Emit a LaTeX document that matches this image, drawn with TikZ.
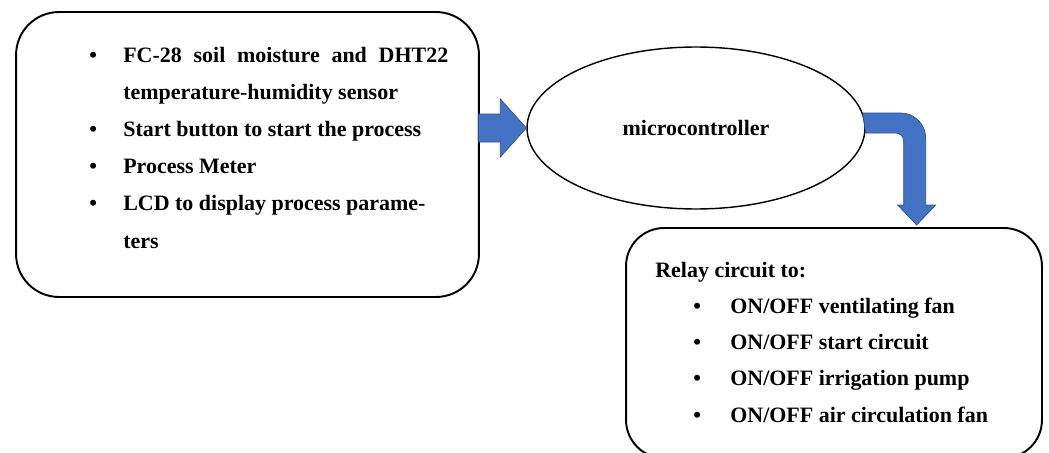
\documentclass[tikz,border=0pt]{standalone}
\usepackage{fontspec}
\setmainfont{Liberation Serif}
\usetikzlibrary{calc, shapes.geometric}

\definecolor{flowblue}{HTML}{4472C4}
\definecolor{flowedge}{HTML}{2F528F}

\newcommand\bul{\makebox[0.68cm][l]{\textbullet}}
\newcommand\rbul{\hspace*{0.76cm}\makebox[0.74cm][l]{\textbullet}}

\tikzset{
	panel/.style = {draw, line width = 1.1pt, inner sep = 0pt},
	flow/.style = {fill = flowblue, draw = flowedge, line width = 0.4pt},
	listtext/.style = {align = left, inner sep = 0pt,
		font = \fontsize{12.5}{21.1}\selectfont\bfseries},
}

\begin{document}
\begin{tikzpicture}[x = 0.02cm, y = -0.02cm]
		\useasboundingbox (0, 0) rectangle (1049, 453) ;
		\clip (0, 0) rectangle (1049, 453) ;
		% boxes
		\node [panel, rounded corners = 0.86cm, minimum width = 9.26cm,
			minimum height = 5.7cm] (sensors) at (247.5, 154.5) {} ;
		\node [panel, ellipse, line width = 0.8pt, minimum width = 6.76cm,
			minimum height = 3.24cm, font = \fontsize{12.5}{15}\selectfont\bfseries]
			(mcu) at (696, 128) {microcontroller} ;
		\node [panel, rounded corners = 0.76cm, minimum width = 8.32cm,
			minimum height = 4.6cm] (relay) at (834, 343) {} ;
		% texts (base = last line)
		\node [listtext, anchor = base west] (sensorlist) at (89, 248) {%
			\bul\makebox[6.5cm][s]{FC-28 soil moisture and DHT22}\\
			\hspace*{0.68cm}temperature-humidity sensor\\
			\bul Start button to start the process\\
			\bul Process Meter\\
			\bul LCD to display process parame-\\
			\hspace*{0.68cm}ters} ;
		\node [listtext, anchor = base west,
			font = \fontsize{12.5}{20.55}\selectfont\bfseries] (relaylist) at (655, 422) {%
			Relay circuit to:\\
			\rbul ON/OFF ventilating fan\\
			\rbul ON/OFF start circuit\\
			\rbul ON/OFF irrigation pump\\
			\rbul ON/OFF air circulation fan} ;
		% arrows
		\filldraw [flow] (mcu.west) -- ++(-26, 29) -- ++(0, -15) -- ++(-22, 0)
			-- ++(0, -28) -- ++(22, 0) -- ++(0, -15) -- cycle ;
		\filldraw [flow] ($(mcu.east) + (-3, -15)$) [rounded corners = 0.5cm]
			-- ++(63, 0) [sharp corners] -- ++(0, 92) -- ++(10, 0) -- ++(-19, 20)
			-- ++(-19, -20) -- ++(6, 0) [rounded corners = 0.16cm] -- ++(0, -72)
			[sharp corners] -- ($(mcu.east) + (0, 5)$) -- cycle ;
	\end{tikzpicture}
\end{document}
